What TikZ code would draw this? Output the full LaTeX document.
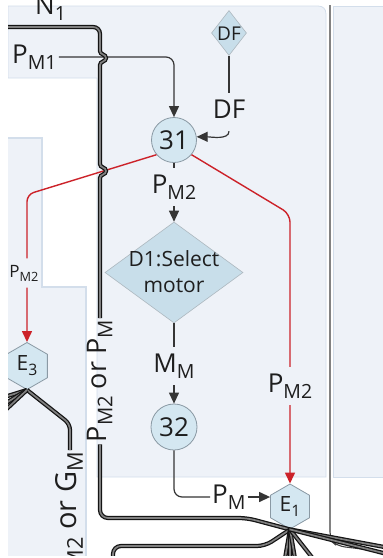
\documentclass[tikz,border=0pt]{standalone}
\usepackage{fontspec}
\setmainfont{Open Sans}
\usepackage{graphicx}
\usetikzlibrary{shapes.geometric,arrows.meta,calc}
\definecolor{panel}{HTML}{EEF2F8}
\definecolor{panelline}{HTML}{D3DEEB}
\definecolor{nodefill}{HTML}{D4E7F1}
\definecolor{diafill}{HTML}{C8DEEA}
\definecolor{nodeline}{HTML}{8A99A4}
\definecolor{redc}{HTML}{CC2229}
\definecolor{ink}{HTML}{1E1E1E}
\newcommand\sbs[1]{\raisebox{-0.24em}{\scalebox{0.75}{#1}}}
\begin{document}
\begin{tikzpicture}[x=1pt,y=-1pt,
  lbl/.style={font=\fontsize{26}{30}\selectfont, text=ink, inner xsep=2pt, inner ysep=6pt, text height=19pt, text depth=7pt},
  smlbl/.style={font=\fontsize{17}{20}\selectfont, text=ink, inner xsep=1.5pt, inner ysep=6pt, text height=12.5pt, text depth=4.5pt},
  rotlbl/.style={font=\fontsize{27}{30}\selectfont, text=ink, inner xsep=2pt, inner ysep=2pt, rotate=90, text height=19pt, text depth=7pt},
  circ/.style={circle, draw=nodeline, fill=nodefill, line width=0.8pt, inner sep=0pt, font=\fontsize{26}{30}\selectfont, text=ink},
  hexa/.style={regular polygon, regular polygon sides=6, shape border rotate=30, draw=nodeline, fill=nodefill, line width=0.8pt, inner sep=0pt, font=\fontsize{21}{24}\selectfont, text=ink},
  dia/.style={diamond, draw=nodeline!70, fill=diafill, line width=0.6pt, inner sep=0pt},
  conn/.style={draw=ink!90, line width=1.2pt},
  arr/.style={-{Triangle[length=11pt,width=10pt]}},
  redline/.style={draw=redc, line width=1.4pt},
  bus/.style={draw=black!92, line width=1.25pt, double=black!50, double distance=1.7pt},
  thinline/.style={draw=black!75, line width=1.1pt}
]
\useasboundingbox (0,0) rectangle (383,558);
\fill[white] (0,0) rectangle (383,558);
\begin{scope}
\clip (8,0) rectangle (383,555);
% panels
\filldraw[fill=panel, draw=panelline, line width=0.8pt]
  (8,6) -- (318,6) .. controls (323,6) and (326,9) .. (326,14) -- (326,477) -- (97,477) -- (97,78) -- (8,78) -- cycle;
\filldraw[fill=panel, draw=panelline, line width=0.8pt]
  (333,6) -- (390,6) -- (390,477) -- (333,477) -- cycle;
\filldraw[fill=panel, draw=panelline, line width=1.2pt]
  (4,138) -- (42,138) -- (42,287) -- (86,287) -- (86,565) -- (4,565) -- cycle;

% vertical thin line
\draw[thinline, rounded corners=8pt] (330,5) -- (330,540) -- (337,546) -- (395,553);

% nodes
\node[circ, minimum size=45pt] (n31) at (174,140) {31};
\node[circ, minimum size=46pt] (n32) at (174,427) {32};
\node[dia, minimum width=138pt, minimum height=101pt] (d1) at (174,272.5) {};
\node[font=\fontsize{21}{26}\selectfont, text=ink, align=center, inner sep=0pt, anchor=north] (d1t) at (174,250.5) {D1:Select\\motor};
\node[dia, minimum width=35pt, minimum height=45pt] (dfd) at (229,33) {};
\node[font=\fontsize{19}{22}\selectfont, text=ink, inner sep=0pt] (dft) at (229,33.5) {DF};
\node[hexa, minimum size=47pt] (e3) at (27,366) {E\sbs{3}};
\node[hexa, minimum size=45pt] (e1) at (290,506.5) {E\sbs{1}};

% labels
\node[lbl, anchor=west] (ln1) at (33,8) {N\sbs{1}};
\node[lbl, anchor=west] (pm1) at (10,57) {P\sbs{M1}};
\node[lbl] (ldf) at (229,112) {DF};
\node[lbl] (lc) at (174,187) {P\sbs{M2}};
\node[lbl] (lm) at (174,366) {M\sbs{M}};
\node[lbl] (lr) at (290,386) {P\sbs{M2}};
\node[lbl, anchor=west] (lpm) at (210,497) {P\sbs{M}};
\node[smlbl] (ll) at (24,273) {P\sbs{M2}};
\node[rotlbl, anchor=east] (la) at (100,318) {P\sbs{M2} or P\sbs{M}};
\node[rotlbl, anchor=east, font=\fontsize{29}{32}\selectfont] (lg) at (70,450) {P\sbs{M2} or G\sbs{M}};

% black connectors
\draw[conn, arr, rounded corners=8pt] (pm1.east) -- (pm1.east -| n31.north) -- (n31.north);
\draw[conn] (dfd.south) -- (ldf.north);
\draw[conn, arr] (ldf.south) .. controls +(0,9) and +(14,0) .. (n31.8);
\draw[conn] (n31.south) -- (lc.north);
\draw[conn, arr] (lc.south) -- (d1.north);
\draw[conn] (d1.south) -- (lm.north);
\draw[conn, arr] (lm.south) -- (n32.north);
\draw[conn, rounded corners=8pt] (n32.south) -- (n32.south |- lpm.west) -- (lpm.west);
\draw[conn, arr] (lpm.east) -- (lpm.east -| e1.180);

% red connectors
\coordinate (rl) at (27,194.5);
\coordinate (rr) at (290,214);
\draw[redline, rounded corners=7pt] (n31.220) -- (rl) -- (rl |- ll.north);
\draw[redline, -{Triangle[length=11pt,width=10pt]}, redc] (rl |- ll.south) -- (e3.90);
\draw[redline, rounded corners=8pt] (n31.320) -- (rr) -- (lr.north);
\draw[redline, -{Triangle[length=11pt,width=10pt]}, redc] (lr.south) -- (e1.90);

% buses
\draw[bus] (2,27) -- (93,27) .. controls (97,27) and (100,30) .. (100,34) -- (100,51)
  .. controls (100,55) and (106,54) .. (106,58) .. controls (106,62) and (100,61) .. (100,65)
  -- (100,164) .. controls (100,168) and (106,167) .. (106,171) .. controls (106,175) and (100,174) .. (100,178)
  -- (la.east);
\draw[bus, rounded corners=8pt] (la.west) -- (100,518) -- (247,518) -- (e1.270);
\draw[bus, rounded corners=8pt] (113,570) -- (113,546) -- (265,546) -- (e1.270);
\foreach \p in {(283,570),(290,570),(297,570),(322,570),(395,549),(395,556)}
  \draw[bus] (e1.270) -- \p;
\draw[bus, rounded corners=6pt] (e3.270) -- (70,424) -- (lg.east);
\foreach \p in {(-2,399),(-2,408),(-2,417)}
  \draw[bus] (e3.270) -- \p;
\end{scope}
\end{tikzpicture}
\end{document}
